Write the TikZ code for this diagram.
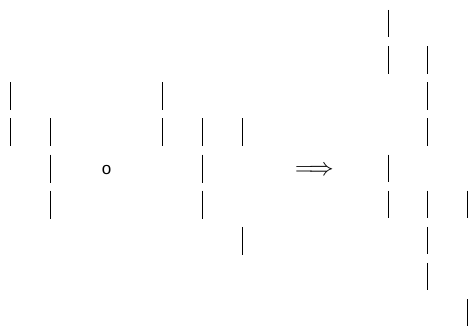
\documentclass[tikz,border=0pt]{standalone}
\usepackage{fontspec}
\newfontfamily\labelfont{Liberation Sans}
\begin{document}
\begin{tikzpicture}[x=1pt,y=1pt,
  seg/.style={line width=1.1pt,black},
  lbl/.style={inner sep=0pt,font=\labelfont\fontsize{17}{17}\selectfont}]
\useasboundingbox (0,0) rectangle (468,-326);
\def\pitch{36.125}
% left configuration: column x / row list
\foreach \x/\rows in {10.7/{3,4}, 50.3/{4,5,6}, 162.3/{3,4}, 202.3/{4,5,6}, 242.3/{4,7}}{
  \foreach \r in \rows {
    \draw[seg] (\x,{-10-\pitch*(\r-1)}) -- ++(0,-28);
  }
}
% right configuration
\foreach \x/\rows in {388.3/{1,2,5,6}, 427.3/{2,3,4,6,7,8}, 467.3/{6,9}}{
  \foreach \r in \rows {
    \draw[seg] (\x,{-10-\pitch*(\r-1)}) -- ++(0,-27.5);
  }
}
\node[lbl] (o) at (106.5,-170) {o};
\node[inner sep=0pt,font=\fontsize{28.5}{28.5}\selectfont] (arr) at (314.5,-171) {$\Longrightarrow$};
\end{tikzpicture}
\end{document}
